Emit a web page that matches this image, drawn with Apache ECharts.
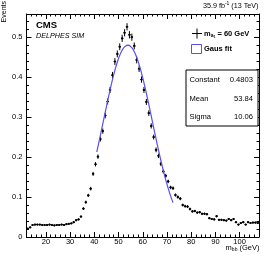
<!DOCTYPE html>
<html><head><meta charset="utf-8">
<script src="https://cdn.jsdelivr.net/npm/echarts@6/dist/echarts.min.js"></script>
<style>html,body{margin:0;padding:0;background:#fff}#c{width:267px;height:259px}</style>
</head><body><div id="c"></div>
<script>
// ---------------- data ----------------
const binCenters = [12.5,13.5,14.5,15.5,16.5,17.5,18.5,19.5,20.5,21.5,22.5,23.5,24.5,25.5,26.5,27.5,28.5,29.5,30.5,31.5,32.5,33.5,34.5,35.5,36.5,37.5,38.5,39.5,40.5,41.5,42.5,43.5,44.5,45.5,46.5,47.5,48.5,49.5,50.5,51.5,52.5,53.5,54.5,55.5,56.5,57.5,58.5,59.5,60.5,61.5,62.5,63.5,64.5,65.5,66.5,67.5,68.5,69.5,70.5,71.5,72.5,73.5,74.5,75.5,76.5,77.5,78.5,79.5,80.5,81.5,82.5,83.5,84.5,85.5,86.5,87.5,88.5,89.5,90.5,91.5,92.5,93.5,94.5,95.5,96.5,97.5,98.5,99.5,100.5,101.5,102.5,103.5,104.5,105.5,106.5,107.5];
const events = [0.021,0.024,0.030,0.031,0.031,0.031,0.030,0.030,0.030,0.031,0.030,0.029,0.030,0.030,0.031,0.030,0.032,0.033,0.034,0.037,0.042,0.044,0.051,0.071,0.087,0.104,0.121,0.158,0.182,0.201,0.245,0.265,0.304,0.339,0.368,0.405,0.439,0.458,0.476,0.497,0.511,0.526,0.506,0.500,0.478,0.443,0.421,0.394,0.368,0.338,0.310,0.278,0.250,0.218,0.203,0.183,0.164,0.153,0.139,0.124,0.122,0.105,0.100,0.096,0.080,0.077,0.076,0.070,0.064,0.065,0.061,0.062,0.058,0.058,0.057,0.047,0.045,0.044,0.052,0.043,0.043,0.042,0.041,0.045,0.042,0.045,0.037,0.031,0.035,0.037,0.031,0.037,0.035,0.036,0.036,0.035];
const errors = [0.002,0.002,0.002,0.002,0.002,0.002,0.002,0.002,0.002,0.002,0.002,0.002,0.002,0.002,0.002,0.002,0.002,0.002,0.002,0.0025,0.0025,0.0025,0.003,0.0035,0.004,0.004,0.0045,0.005,0.0055,0.0055,0.006,0.0065,0.007,0.0075,0.0075,0.008,0.0085,0.0085,0.0085,0.009,0.009,0.009,0.009,0.009,0.0085,0.0085,0.008,0.008,0.0075,0.0075,0.007,0.0065,0.006,0.006,0.0055,0.0055,0.005,0.005,0.0045,0.0045,0.0045,0.004,0.004,0.004,0.0035,0.0035,0.0035,0.0035,0.003,0.003,0.003,0.003,0.003,0.003,0.003,0.0025,0.0025,0.0025,0.003,0.0025,0.0025,0.0025,0.0025,0.0025,0.0025,0.0025,0.0025,0.002,0.002,0.0025,0.002,0.0025,0.002,0.0025,0.0025,0.002];
const binHalfWidth = 0.5;

const fitConstant = 0.4803;
const fitMean = 53.84;
const fitSigma = 10.06;
const fitRange = [41, 72.5];

const xMajorTicks = [20,30,40,50,60,70,80,90,100];
const xMinorTicks = [12,14,16,18,22,24,26,28,32,34,36,38,42,44,46,48,52,54,56,58,62,64,66,68,72,74,76,78,82,84,86,88,92,94,96,98,102,104,106,108];
const yMajorTicks = [0,0.1,0.2,0.3,0.4,0.5];
const yMinorTicks = [0.02,0.04,0.06,0.08,0.12,0.14,0.16,0.18,0.22,0.24,0.26,0.28,0.32,0.34,0.36,0.38,0.42,0.44,0.46,0.48,0.52,0.54];
const xRange = [12, 108];
const yRange = [0, 0.558];

// ---------------- chart ----------------
const FONT = '"Liberation Sans", Arial, Helvetica, sans-serif';
const chart = echarts.init(document.getElementById('c'), null, {renderer: 'canvas'});

const measureCtx = document.createElement('canvas').getContext('2d');
function textW(t, font) { measureCtx.font = font; return measureCtx.measureText(t).width; }

function xAx(pos, ticks, len, labels, line) {
  return {
    type: 'value', min: xRange[0], max: xRange[1], position: pos,
    axisLine: {show: line, onZero: false, lineStyle: {color: '#000', width: 1}},
    axisTick: {show: true, inside: true, length: len, customValues: ticks, lineStyle: {color: '#000', width: 1}},
    axisLabel: labels ? {show: true, customValues: ticks, color: '#000', fontSize: 7.5, fontFamily: FONT, margin: 1} : {show: false},
    splitLine: {show: false}
  };
}
function yAx(pos, ticks, len, labels, line) {
  return {
    type: 'value', min: yRange[0], max: yRange[1], position: pos,
    axisLine: {show: line, onZero: false, lineStyle: {color: '#000', width: 1}},
    axisTick: {show: true, inside: true, length: len, customValues: ticks, lineStyle: {color: '#000', width: 1}},
    axisLabel: labels ? {show: true, customValues: ticks, color: '#000', fontSize: 7.5, fontFamily: FONT, margin: 4,
      formatter: v => (v === 0 ? '0' : String(Math.round(v * 10) / 10))} : {show: false},
    splitLine: {show: false}
  };
}

const pointData = binCenters.map((x, i) => [x, events[i], errors[i]]);

const fitData = [];
for (let x = fitRange[0]; x <= fitRange[1] + 1e-9; x += 0.25) {
  fitData.push([x, fitConstant * Math.exp(-0.5 * Math.pow((x - fitMean) / fitSigma, 2))]);
}

// text helpers (annotation layout)
function subLabel(parts, x, y, alignRight) {
  const total = parts.reduce((s, p) => s + textW(p.t, p.font), 0);
  let cx = alignRight ? x - total : x;
  const out = [];
  parts.forEach(p => {
    out.push({type: 'text', x: cx, y: y + (p.dy || 0), z: 100,
      style: {text: p.t, font: p.font, fill: '#000', align: 'left', verticalAlign: 'middle'}});
    cx += textW(p.t, p.font);
  });
  return out;
}

const B75 = 'bold 7.5px ' + FONT;
const R75 = '7.5px ' + FONT;
const R72 = '7.2px ' + FONT;

const graphics = [];
// top-right lumi text
graphics.push(...subLabel([
  {t: '35.9 fb', font: R72},
  {t: '-1', font: '5px ' + FONT, dy: -2.5},
  {t: ' (13 TeV)', font: R72}
], 258.5, 6.5, true));
// CMS labels
graphics.push({type: 'text', x: 36, y: 25, z: 100, style: {text: 'CMS', font: 'bold 9.5px ' + FONT, fill: '#000', verticalAlign: 'middle'}});
graphics.push({type: 'text', x: 36, y: 36, z: 100, style: {text: 'DELPHES SIM', font: 'italic 7.2px ' + FONT, fill: '#000', verticalAlign: 'middle'}});
// y title
graphics.push({type: 'text', x: 4.5, y: 1, rotation: Math.PI / 2, z: 100,
  style: {text: 'Events', font: '7px ' + FONT, fill: '#000', align: 'right', verticalAlign: 'middle'}});
// x title
graphics.push(...subLabel([
  {t: 'm', font: R75},
  {t: 'bb', font: '5px ' + FONT, dy: 2.5},
  {t: ' (GeV)', font: R75}
], 259.5, 247.5, true));
// legend entry 1 (data points)
graphics.push({type: 'line', z: 100, shape: {x1: 192, y1: 33.5, x2: 202, y2: 33.5}, style: {stroke: '#000', lineWidth: 1}});
graphics.push({type: 'line', z: 100, shape: {x1: 197, y1: 28.5, x2: 197, y2: 38.5}, style: {stroke: '#000', lineWidth: 1}});
graphics.push(...subLabel([
  {t: 'm', font: B75},
  {t: 'a', font: 'bold 5px ' + FONT, dy: 2},
  {t: '1', font: 'bold 3.5px ' + FONT, dy: 3.5},
  {t: ' = 60 GeV', font: B75}
], 204, 33.5, false));
// legend entry 2 (fit)
graphics.push({type: 'rect', z: 100, shape: {x: 191.5, y: 44.5, width: 10, height: 9}, style: {fill: '#fff', stroke: '#5a4ff0', lineWidth: 1}});
graphics.push({type: 'text', x: 204, y: 49, z: 100, style: {text: 'Gaus fit', font: B75, fill: '#000', verticalAlign: 'middle'}});
// stats box
graphics.push({type: 'rect', z: 100, shape: {x: 186, y: 70, width: 72, height: 56}, style: {fill: '#fff', stroke: '#000', lineWidth: 1}});
const statRows = [['Constant', '0.4803', 80], ['Mean', '53.84', 98.5], ['Sigma', '10.06', 117]];
statRows.forEach(r => {
  graphics.push({type: 'text', x: 189.5, y: r[2], z: 101, style: {text: r[0], font: '7.6px ' + FONT, fill: '#000', verticalAlign: 'middle'}});
  graphics.push({type: 'text', x: 253, y: r[2], z: 101, style: {text: r[1], font: '7.6px ' + FONT, fill: '#000', align: 'right', verticalAlign: 'middle'}});
});

chart.setOption({
  animation: false,
  backgroundColor: '#fff',
  grid: {left: 26.5, right: 8, top: 14, bottom: 22, containLabel: false},
  xAxis: [
    xAx('bottom', xMajorTicks, 5, true, true),
    xAx('bottom', xMinorTicks, 2.5, false, false),
    xAx('top', xMajorTicks, 5, false, true),
    xAx('top', xMinorTicks, 2.5, false, false)
  ],
  yAxis: [
    yAx('left', yMajorTicks, 5, true, true),
    yAx('left', yMinorTicks, 2.5, false, false),
    yAx('right', yMajorTicks, 5, false, true),
    yAx('right', yMinorTicks, 2.5, false, false)
  ],
  series: [
    {
      type: 'custom', name: 'points', xAxisIndex: 0, yAxisIndex: 0, z: 3,
      data: pointData,
      renderItem: function (params, api) {
        const x = api.value(0), y = api.value(1), e = api.value(2);
        const c = api.coord([x, y]);
        const t = api.coord([x, y + e]);
        const b = api.coord([x, y - e]);
        const l = api.coord([x - binHalfWidth, y]);
        const r = api.coord([x + binHalfWidth, y]);
        return {type: 'group', children: [
          {type: 'line', shape: {x1: c[0], y1: t[1], x2: c[0], y2: b[1]}, style: {stroke: '#000', lineWidth: 1}},
          {type: 'line', shape: {x1: l[0], y1: c[1], x2: r[0], y2: c[1]}, style: {stroke: '#000', lineWidth: 1}},
          {type: 'circle', shape: {cx: c[0], cy: c[1], r: 1.1}, style: {fill: '#000'}}
        ]};
      }
    },
    {
      type: 'line', name: 'Gaus fit', xAxisIndex: 0, yAxisIndex: 0, z: 4,
      data: fitData, showSymbol: false, symbol: 'none', smooth: false,
      lineStyle: {color: '#5a4ff0', width: 1.2}
    }
  ],
  graphic: graphics
});
</script>
</body></html>
